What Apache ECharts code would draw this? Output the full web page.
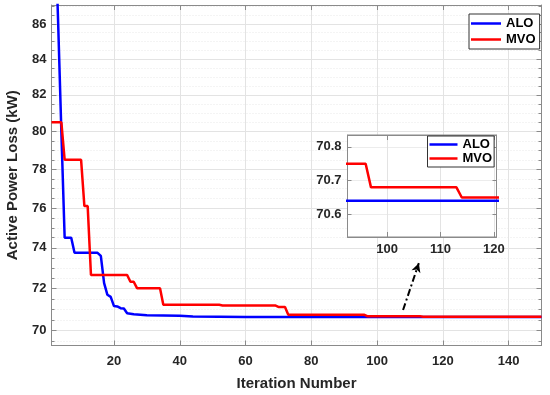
<!DOCTYPE html>
<html><head><meta charset="utf-8">
<script src="https://cdn.jsdelivr.net/npm/echarts@6/dist/echarts.min.js"></script>
<style>html,body{margin:0;padding:0;background:#fff}#c{width:550px;height:395px}</style>
</head><body><div id="c"></div>
<script>
// ---- data ----
const aloIter = [1,2,3,4,5,7,8,15,16,17,18,19,20,21,22,23,24,26,30,40,44,60,150];
const aloLoss = [99.0,92.5,86.2,80.0,74.5,74.5,73.75,73.75,73.6,72.26,71.7,71.6,71.16,71.14,71.06,71.04,70.82,70.77,70.72,70.70,70.66,70.64,70.64];
const mvoIter = [1,4,5,10,11,12,13,24,25,26,27,34,35,52,53,69,70,72,73,96,97,113,114,150];
const mvoLoss = [80.5,80.5,78.5,78.5,76.1,76.1,72.66,72.66,72.33,72.33,72.02,72.02,71.22,71.22,71.19,71.19,71.12,71.12,70.75,70.75,70.68,70.68,70.65,70.65];
const seriesNames = ['ALO','MVO'];
const xTicks = [20,40,60,80,100,120,140];
const yTicks = [70,72,74,76,78,80,82,84,86];
const yMinorTicks = [69.5,70.5,71,71.5,72.5,73,73.5,74.5,75,75.5,76.5,77,77.5,78.5,79,79.5,80.5,81,81.5,82.5,83,83.5,84.5,85,85.5,86.5,87];
const insetXTicks = [100,110,120];
const insetYTicks = [70.6,70.7,70.8];
const arrowFrom = [107.9, 70.97];
const arrowTo = [112.7, 73.24];

const FONT = '"Liberation Sans", Arial, sans-serif';
const AXC = '#8a8a8a';
const colors = ['#0000ff', '#ff0000'];

function pairs(xs, ys){ return xs.map((x,i)=>[x, ys[i]]); }

const chart = echarts.init(document.getElementById('c'), null, {renderer:'canvas'});

const lbl = {fontFamily: FONT, fontWeight:'bold', fontSize:13, color:'#262626'};

function xAx(grid, min, max, ticks, pos, showLabel, split, margin){
  return {
    type:'value', gridIndex:grid, min:min, max:max, position:pos,
    axisLine:{show:true, onZero:false, lineStyle:{color:AXC, width:1}},
    axisTick:{show:true, inside:true, length:5, customValues:ticks, lineStyle:{color:AXC}},
    axisLabel:{show:showLabel, customValues:ticks, margin:margin||8, ...lbl},
    splitLine:{show:split, lineStyle:{color:'#e3e3e3', width:1}}
  };
}

const option = {
  animation:false,
  backgroundColor:'#fff',
  grid:[
    {left:51.5, top:5, right:8.5, bottom:49.5, show:false, containLabel:false, outerBoundsMode:'none'},
    {left:347.5, top:135, width:149, height:102, show:true, backgroundColor:'#fff', borderColor:AXC, borderWidth:1, z:5, outerBoundsMode:'none'}
  ],
  xAxis:[
    Object.assign(xAx(0,1,150,xTicks,'bottom',true,true,9), {
      name:'Iteration Number', nameLocation:'middle', nameGap:31,
      nameTextStyle:{fontFamily:FONT, fontWeight:'bold', fontSize:15, color:'#262626'}
    }),
    xAx(0,1,150,xTicks,'top',false,false),
    Object.assign(xAx(1,92.6,120.5,insetXTicks,'bottom',true,true,6), {z:6}),
    Object.assign(xAx(1,92.6,120.5,insetXTicks,'top',false,false), {z:6})
  ],
  yAxis:[
    {type:'log', gridIndex:0, min:69.3, max:87.1, position:'left',
     name:'Active Power Loss (kW)', nameLocation:'middle', nameGap:31,
     nameTextStyle:{fontFamily:FONT, fontWeight:'bold', fontSize:15, color:'#262626'},
     axisLine:{show:true, lineStyle:{color:AXC}},
     axisTick:{show:true, inside:true, length:5, customValues:yTicks, lineStyle:{color:AXC}},
     axisLabel:{show:true, customValues:yTicks, margin:5, formatter:v=>String(Math.round(v)), ...lbl},
     splitLine:{show:true, lineStyle:{color:'#e3e3e3'}}},
    {type:'log', gridIndex:0, min:69.3, max:87.1, position:'right',
     axisLine:{show:true, lineStyle:{color:AXC}},
     axisTick:{show:true, inside:true, length:5, customValues:yTicks, lineStyle:{color:AXC}},
     axisLabel:{show:false}, splitLine:{show:false}},
    {type:'log', gridIndex:0, min:69.3, max:87.1, position:'left',
     axisLine:{show:false},
     axisTick:{show:true, inside:true, length:3, customValues:yMinorTicks, lineStyle:{color:AXC}},
     axisLabel:{show:false, customValues:yMinorTicks},
     splitLine:{show:true, lineStyle:{color:'#e8e8e8', type:[1,2]}}},
    {type:'log', gridIndex:0, min:69.3, max:87.1, position:'right',
     axisLine:{show:false},
     axisTick:{show:true, inside:true, length:3, customValues:yMinorTicks, lineStyle:{color:AXC}},
     axisLabel:{show:false}, splitLine:{show:false}},
    {type:'value', gridIndex:1, min:70.533, max:70.835, position:'left', z:6,
     axisLine:{show:true, lineStyle:{color:AXC}},
     axisTick:{show:true, inside:true, length:4, customValues:insetYTicks, lineStyle:{color:AXC}},
     axisLabel:{show:true, customValues:insetYTicks, margin:6, formatter:v=>v.toFixed(1), ...lbl},
     splitLine:{show:true, lineStyle:{color:'#ececec'}}},
    {type:'value', gridIndex:1, min:70.533, max:70.835, position:'right', z:6,
     axisLine:{show:true, lineStyle:{color:AXC}},
     axisTick:{show:true, inside:true, length:4, customValues:insetYTicks, lineStyle:{color:AXC}},
     axisLabel:{show:false}, splitLine:{show:false}}
  ],
  legend:[
    {data:seriesNames, left:469, top:14, orient:'vertical', icon:'rect', itemWidth:30, itemHeight:2.5,
     itemGap:3, padding:[3,4,3,2], borderColor:'#333', borderWidth:1, backgroundColor:'#fff', z:10,
     textStyle:{fontFamily:FONT, fontWeight:'bold', fontSize:13, color:'#000'}},
    {data:seriesNames, left:427.5, top:136, orient:'vertical', icon:'rect', itemWidth:28, itemHeight:2.5,
     itemGap:1, padding:[2,2,2,2], borderColor:'#333', borderWidth:1, backgroundColor:'#fff', z:10,
     textStyle:{fontFamily:FONT, fontWeight:'bold', fontSize:13, color:'#000'}}
  ],
  series:[
    {name:seriesNames[0], type:'line', xAxisIndex:0, yAxisIndex:0, data:pairs(aloIter, aloLoss),
     showSymbol:false, symbol:'none', lineStyle:{color:colors[0], width:2.5}, itemStyle:{color:colors[0]}, z:3,
     markLine:{silent:true, symbol:['none','arrow'], symbolSize:[7,9],
       lineStyle:{color:'#000', width:2, type:[7,3,2,3]}, label:{show:false},
       data:[[{coord:arrowFrom},{coord:arrowTo}]]}},
    {name:seriesNames[1], type:'line', xAxisIndex:0, yAxisIndex:0, data:pairs(mvoIter, mvoLoss),
     showSymbol:false, symbol:'none', lineStyle:{color:colors[1], width:2.5}, itemStyle:{color:colors[1]}, z:4},
    {name:seriesNames[0], type:'line', xAxisIndex:2, yAxisIndex:4, data:pairs(aloIter, aloLoss),
     showSymbol:false, symbol:'none', lineStyle:{color:colors[0], width:2.5}, itemStyle:{color:colors[0]}, z:7},
    {name:seriesNames[1], type:'line', xAxisIndex:2, yAxisIndex:4, data:pairs(mvoIter, mvoLoss),
     showSymbol:false, symbol:'none', lineStyle:{color:colors[1], width:2.5}, itemStyle:{color:colors[1]}, z:7}
  ]
};
chart.setOption(option);
</script>
</body></html>
